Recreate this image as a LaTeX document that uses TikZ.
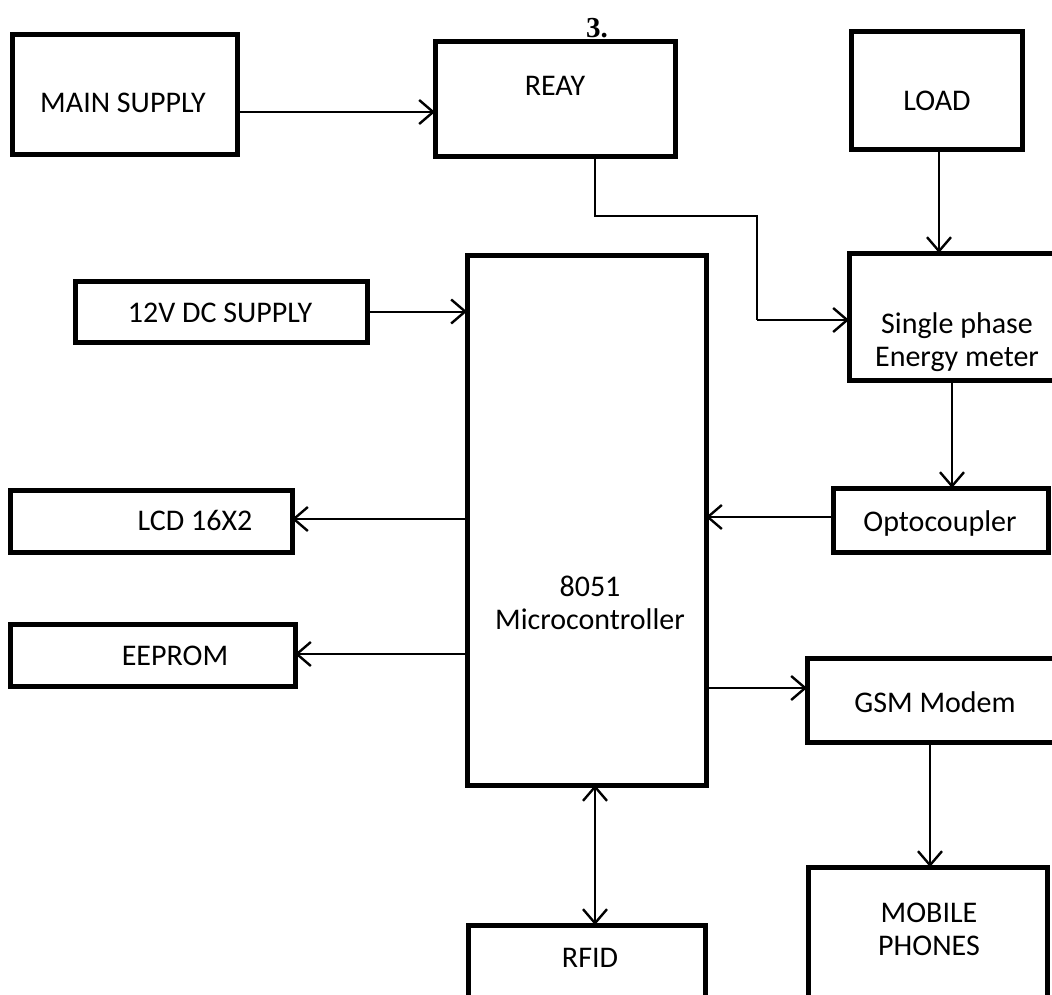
\documentclass[tikz,border=0pt]{standalone}
\usepackage{fontspec}
\setmainfont{Carlito}
\newfontfamily\serifbold{Liberation Serif}
\usetikzlibrary{arrows.meta,calc}
\begin{document}
\begin{tikzpicture}[x=1pt,y=-1pt,
  blk/.style={draw, line width=5pt, inner sep=0pt, outer sep=0pt},
  txt/.style={inner sep=0pt, font=\fontsize{30}{33}\selectfont, align=center},
  conn/.style={line width=2pt, -{Straight Barb[length=14pt,width=24pt,line width=2.4pt]}},
  dconn/.style={line width=2pt, {Straight Barb[length=14pt,width=24pt,line width=2.4pt]}-{Straight Barb[length=14pt,width=24pt,line width=2.4pt]}}
  ]
\clip (0,0) rectangle (1052,995);
\fill[white] (0,0) rectangle (1052,995);

% title fragment
\node[inner sep=0pt, font=\serifbold\bfseries\fontsize{29}{32}\selectfont] (title) at (597,28) {3.};

% boxes
\node[blk, minimum width=225pt, minimum height=120pt] (main) at (124.5,95) {};
\node[txt] (mainT) at (123,103) {MAIN SUPPLY};
\node[blk, minimum width=240pt, minimum height=115pt] (reay) at (555,99.5) {};
\node[txt] (reayT) at (555,86) {REAY};
\node[blk, minimum width=171pt, minimum height=118pt] (load) at (936.5,91) {};
\node[txt] (loadT) at (937,101) {LOAD};

\node[blk, minimum width=292pt, minimum height=61pt] (dc) at (221,311.5) {};
\node[txt] (dcT) at (220,313) {12V DC SUPPLY};

\node[blk, minimum width=239pt, minimum height=530pt] (mcu) at (586.5,520) {};
\node[txt] (mcuT) at (590,603) {8051\\Microcontroller};

\node[blk, minimum width=216pt, minimum height=127pt] (meter) at (957,316.5) {};
\node[txt] (meterT) at (957,342) {Single phase\\Energy meter};

\node[blk, minimum width=282pt, minimum height=62pt] (lcd) at (151,521) {};
\node[txt] (lcdT) at (195,520) {LCD 16X2};

\node[blk, minimum width=215pt, minimum height=64pt] (opto) at (940.5,520) {};
\node[txt] (optoT) at (940,523) {Optocoupler};

\node[blk, minimum width=285pt, minimum height=62pt] (eep) at (152.5,655) {};
\node[txt] (eepT) at (175,656) {EEPROM};

\node[blk, minimum width=256pt, minimum height=84pt] (gsm) at (935,700) {};
\node[txt] (gsmT) at (935,702) {GSM Modem};

\node[blk, minimum width=239pt, minimum height=143pt] (mob) at (927.5,938.5) {};
\node[txt] (mobT) at (929,929) {MOBILE\\PHONES};

\node[blk, minimum width=237pt, minimum height=85pt] (rfid) at (586.5,967.5) {};
\node[txt] (rfidT) at (590,958) {RFID};

% connectors
\coordinate (m1) at ($(main.east)+(0,17)$);
\draw[conn] (m1) -- (m1 -| reay.west);

\coordinate (r0) at ($(reay.south)+(40,0)$);
\coordinate (rbend) at (757,216);
\coordinate (r3) at ($(meter.west)+(0,3.5)$);
\draw[line width=2pt] (r0) -- (r0 |- rbend) -- (rbend) -- (rbend |- r3);
\draw[conn] (rbend |- r3) -- (r3);

\coordinate (l1) at ($(load.south)+(2.5,0)$);
\draw[conn] (l1) -- (l1 |- meter.north);

\coordinate (d1) at ($(dc.east)+(0,0)$);
\draw[conn] (d1) -- (d1 -| mcu.west);

\coordinate (e1) at ($(meter.south)+(-5,0)$);
\draw[conn] (e1) -- (e1 |- opto.north);

\coordinate (o1) at ($(opto.west)+(0,-3)$);
\draw[conn] (o1) -- (o1 -| mcu.east);

\coordinate (c1) at ($(lcd.east)+(0,-2)$);
\draw[conn] (c1 -| mcu.west) -- (c1);

\coordinate (p1) at ($(eep.east)+(0,-1)$);
\draw[conn] (p1 -| mcu.west) -- (p1);

\coordinate (g1) at ($(gsm.west)+(0,-12)$);
\draw[conn] (g1 -| mcu.east) -- (g1);

\coordinate (g2) at ($(gsm.south)+(-5,0)$);
\draw[conn] (g2) -- (g2 |- mob.north);

\coordinate (u1) at ($(mcu.south)+(8.5,0)$);
\draw[dconn] (u1) -- (u1 |- rfid.north);
\end{tikzpicture}
\end{document}
